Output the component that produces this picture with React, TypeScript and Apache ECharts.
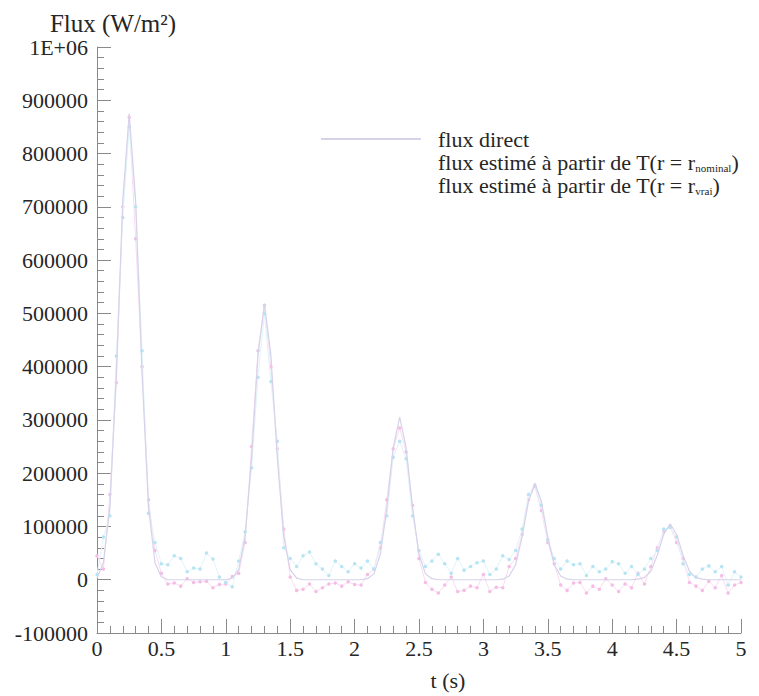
import React, { useEffect, useRef } from "react";
import * as echarts from "echarts";

const timeS: number[] = [
  0.0, 0.05, 0.1, 0.15, 0.2, 0.25, 0.3, 0.35, 0.4, 0.45,
  0.5, 0.55, 0.6, 0.65, 0.7, 0.75, 0.8, 0.85, 0.9, 0.95,
  1.0, 1.05, 1.1, 1.15, 1.2, 1.25, 1.3, 1.35, 1.4, 1.45,
  1.5, 1.55, 1.6, 1.65, 1.7, 1.75, 1.8, 1.85, 1.9, 1.95,
  2.0, 2.05, 2.1, 2.15, 2.2, 2.25, 2.3, 2.35, 2.4, 2.45,
  2.5, 2.55, 2.6, 2.65, 2.7, 2.75, 2.8, 2.85, 2.9, 2.95,
  3.0, 3.05, 3.1, 3.15, 3.2, 3.25, 3.3, 3.35, 3.4, 3.45,
  3.5, 3.55, 3.6, 3.65, 3.7, 3.75, 3.8, 3.85, 3.9, 3.95,
  4.0, 4.05, 4.1, 4.15, 4.2, 4.25, 4.3, 4.35, 4.4, 4.45,
  4.5, 4.55, 4.6, 4.65, 4.7, 4.75, 4.8, 4.85, 4.9, 4.95,
  5.0,
];

const fluxDirect: number[] = [
  3000, 32000, 137000, 385000, 712000, 875000, 712000, 385000, 137000, 32000,
  5000, 0, 0, 0, 0, 0, 0, 0, 0, 0,
  0, 3000, 19000, 81000, 228000, 422000, 518000, 422000, 228000, 81000,
  19000, 3000, 0, 0, 0, 0, 0, 0, 0, 0,
  0, 0, 2000, 11000, 48000, 134000, 248000, 305000, 248000, 134000,
  48000, 11000, 2000, 0, 0, 0, 0, 0, 0, 0,
  0, 0, 0, 1000, 7000, 28000, 80000, 147000, 181000, 147000,
  80000, 28000, 7000, 1000, 0, 0, 0, 0, 0, 0,
  0, 0, 0, 0, 1000, 4000, 16000, 46000, 85000, 105000,
  85000, 46000, 16000, 4000, 1000, 0, 0, 0, 0, 0,
  0,
];

const fluxNominal: number[] = [
  45000, 20000, 160000, 370000, 700000, 868000, 640000, 400000, 150000, 55000,
  12000, -8000, -6000, -12000, 2000, -5000, -4000, -3000, -15000, -9000,
  -8000, 6000, 12000, 70000, 250000, 430000, 515000, 400000, 246000, 95000,
  5000, -20000, -18000, -8000, -22000, -15000, -8000, -6000, -12000, -4000,
  -9000, -10000, 10000, 20000, 60000, 150000, 246000, 285000, 240000, 140000,
  40000, -5000, -18000, -25000, -10000, 5000, -22000, -20000, -12000, -15000,
  10000, -22000, -14000, -15000, 25000, 40000, 85000, 150000, 175000, 130000,
  70000, 30000, -10000, -20000, -6000, -5000, -25000, -12000, -18000, 2000,
  -10000, -22000, -8000, -15000, 12000, -8000, 25000, 60000, 90000, 100000,
  70000, 40000, -5000, -12000, -20000, -3000, -15000, 8000, -25000, -10000,
  -5000,
];

const fluxVrai: number[] = [
  10000, 80000, 120000, 420000, 680000, 850000, 700000, 430000, 125000, 70000,
  30000, 28000, 45000, 40000, 15000, 22000, 20000, 50000, 39000, 5000,
  -5000, -13000, 35000, 90000, 210000, 380000, 500000, 372000, 260000, 60000,
  40000, 25000, 45000, 52000, 30000, 20000, 8000, 35000, 25000, 15000,
  30000, 22000, 35000, 20000, 70000, 120000, 230000, 260000, 227000, 120000,
  55000, 25000, 35000, 48000, 30000, 12000, 40000, 18000, 25000, 32000,
  35000, 10000, 20000, 45000, 38000, 55000, 95000, 160000, 177000, 140000,
  75000, 40000, 20000, 35000, 28000, 30000, 8000, 25000, 15000, 20000,
  34000, 30000, 12000, 25000, 10000, 20000, 40000, 55000, 95000, 98000,
  80000, 30000, 10000, 5000, 20000, 26000, 15000, 25000, -10000, 15000,
  5000,
];

const seriesNames: string[] = [
  "flux direct",
  "flux estimé à partir de T(r = r_nominal)",
  "flux estimé à partir de T(r = r_vrai)",
];

const xTicks = { min: 0, max: 5, interval: 0.5 };
const yTicks = { min: -100000, max: 1000000, interval: 100000 };

const FONT = "Liberation Serif, Times New Roman, serif";
const TEXT_COLOR = "#262626";
const AXIS_COLOR = "#8a8a8a";

const pair = (vals: number[]) => timeS.map((t, i) => [t, vals[i]]);

export default function App() {
  const ref = useRef<HTMLDivElement>(null);
  useEffect(() => {
    if (!ref.current) return;
    const chart = echarts.init(ref.current, undefined, { renderer: "svg" });
    chart.setOption({
      animation: false,
      backgroundColor: "#ffffff",
      textStyle: { fontFamily: FONT },
      grid: { left: 97, top: 47, width: 644, height: 595 },
      legend: {
        orient: "vertical",
        left: 315,
        top: 123,
        itemWidth: 100,
        itemHeight: 10,
        itemGap: 0,
        selectedMode: false,
        data: [
          { name: seriesNames[0], itemStyle: { opacity: 0 } },
          { name: seriesNames[1], icon: "none" },
          { name: seriesNames[2], icon: "none" },
        ],
        formatter: (name: string) => name.replace(/r_(\w+)\)/, "r{sub|$1})"),
        textStyle: {
          fontFamily: FONT,
          fontSize: 22,
          color: TEXT_COLOR,
          lineHeight: 22,
          padding: [0, 0, 0, 12],
          rich: {
            sub: {
              fontFamily: FONT,
              fontSize: 11,
              color: TEXT_COLOR,
              verticalAlign: "bottom",
              lineHeight: 22,
              padding: [12, 0, 0, 0],
            },
          },
        },
      },
      xAxis: {
        type: "value",
        min: xTicks.min,
        max: xTicks.max,
        interval: xTicks.interval,
        name: "t (s)",
        nameLocation: "middle",
        nameGap: 36,
        nameTextStyle: {
          fontFamily: FONT,
          fontSize: 22,
          color: TEXT_COLOR,
          padding: [0, 0, 0, 58],
        },
        axisLine: { show: true, onZero: false, lineStyle: { color: AXIS_COLOR, width: 1 } },
        axisTick: { show: true, inside: true, length: 14, lineStyle: { color: AXIS_COLOR } },
        minorTick: { show: true, splitNumber: 5, length: 7, lineStyle: { color: AXIS_COLOR } },
        axisLabel: {
          fontFamily: FONT,
          fontSize: 22,
          fontWeight: "normal",
          color: TEXT_COLOR,
          margin: 4,
        },
        splitLine: { show: false },
      },
      yAxis: {
        type: "value",
        min: yTicks.min,
        max: yTicks.max,
        interval: yTicks.interval,
        name: "Flux (W/m²)",
        nameLocation: "end",
        nameGap: 10,
        nameTextStyle: {
          fontFamily: FONT,
          fontSize: 25,
          color: TEXT_COLOR,
          padding: [0, 0, 0, 32],
        },
        axisLine: { show: true, onZero: false, lineStyle: { color: AXIS_COLOR, width: 1 } },
        axisTick: { show: true, inside: true, length: 14, lineStyle: { color: AXIS_COLOR } },
        minorTick: { show: true, splitNumber: 5, length: 7, lineStyle: { color: AXIS_COLOR } },
        axisLabel: {
          fontFamily: FONT,
          fontSize: 22,
          fontWeight: "normal",
          color: TEXT_COLOR,
          margin: 9,
          formatter: (v: number) => (v === 1000000 ? "1E+06" : String(v)),
        },
        splitLine: { show: false },
      },
      series: [
        {
          name: seriesNames[1],
          type: "line",
          data: pair(fluxNominal),
          symbol: "circle",
          symbolSize: 3.5,
          z: 2,
          lineStyle: { color: "#fadcf2", width: 1 },
          itemStyle: { color: "#f5bde6" },
        },
        {
          name: seriesNames[2],
          type: "line",
          data: pair(fluxVrai),
          symbol: "circle",
          symbolSize: 3.5,
          z: 3,
          lineStyle: { color: "#dff4fa", width: 1 },
          itemStyle: { color: "#b6e4f2" },
        },
        {
          name: seriesNames[0],
          type: "line",
          data: pair(fluxDirect),
          symbol: "none",
          z: 4,
          lineStyle: { color: "#d6d2ea", width: 1.2 },
          itemStyle: { color: "#c4c0d6" },
        },
      ],
    });
    return () => chart.dispose();
  }, []);
  return (
    <div
      ref={ref}
      style={{ position: "fixed", left: 0, top: 0, width: 759, height: 696, background: "#fff" }}
    />
  );
}
